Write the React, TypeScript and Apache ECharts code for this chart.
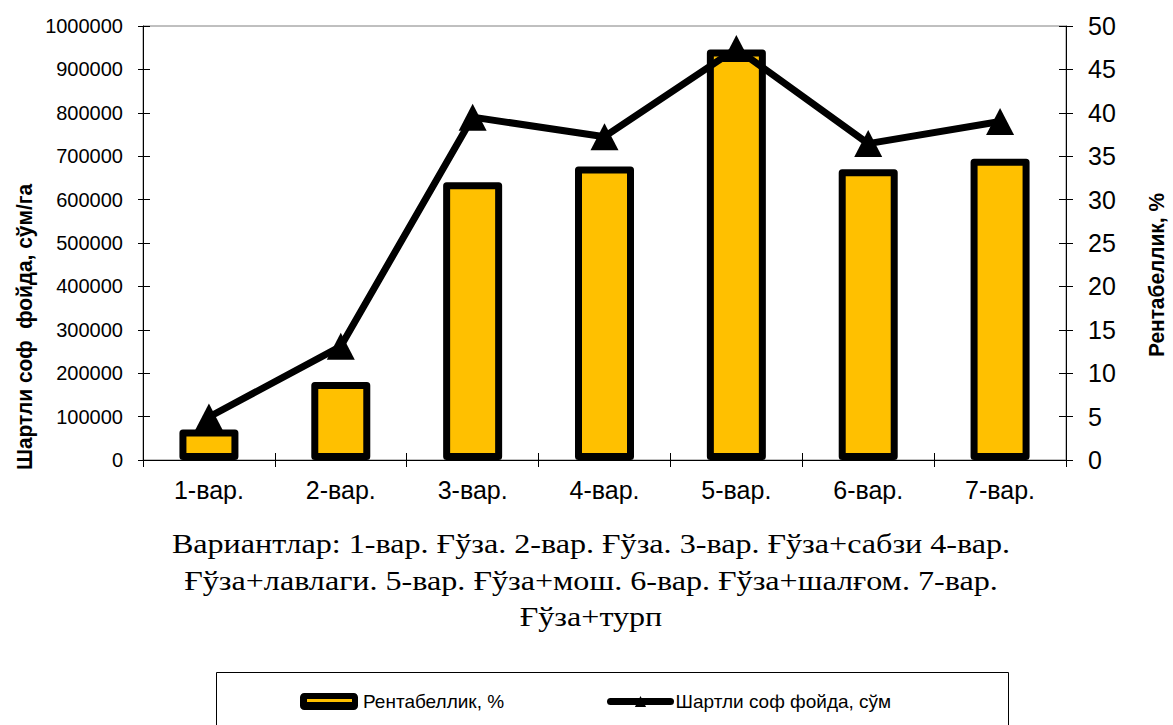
import React, { useEffect, useRef } from "react";
import * as echarts from "echarts";

// Variants on the category axis
const categories = ["1-вар.", "2-вар.", "3-вар.", "4-вар.", "5-вар.", "6-вар.", "7-вар."];
// Profitability, % (bars, right axis)
const profitability = [3.5, 9.0, 32.0, 33.8, 47.3, 33.5, 34.7];
// Conditional net profit, sum/ha (line, left axis)
const netProfit = [99000, 262000, 790000, 745000, 948000, 729000, 780000];

const barName = "Рентабеллик, %";
const lineName = "Шартли соф фойда, сўм";
const leftTitle = "Шартли соф  фойда, сўм/га";
const rightTitle = "Рентабеллик, %";
const noteLines = [
  "Вариантлар: 1-вар. Ғўза. 2-вар. Ғўза. 3-вар. Ғўза+сабзи 4-вар.",
  "Ғўза+лавлаги. 5-вар. Ғўза+мош. 6-вар. Ғўза+шалғом. 7-вар.",
  "Ғўза+турп",
];

const SANS = "Arial, 'Liberation Sans', sans-serif";
const SERIF = "'Times New Roman', 'Liberation Serif', serif";
const BAR_COLOR = "#FFC000";

export default function App() {
  const ref = useRef<HTMLDivElement>(null);

  useEffect(() => {
    if (!ref.current) return;
    const chart = echarts.init(ref.current, null, { renderer: "svg" });

    const hiddenAxisBase = {
      type: "value",
      axisLine: { show: false },
      axisLabel: { show: false },
      splitLine: { show: false },
      axisTick: { show: true, inside: true, length: 7, lineStyle: { color: "#000", width: 1 } },
    };

    const swatchStyle = { color: "#000", borderColor: "#000", borderWidth: 0 };

    chart.setOption({
      animation: false,
      backgroundColor: "#fff",
      grid: {
        left: 143,
        right: 107,
        top: 26,
        bottom: 265,
        show: true,
        borderColor: "#808080",
        borderWidth: 1,
        backgroundColor: "transparent",
      },
      xAxis: [
        {
          type: "category",
          data: categories,
          axisLine: { lineStyle: { color: "#000", width: 1 } },
          axisTick: { show: true, length: 7, lineStyle: { color: "#000" } },
          axisLabel: { color: "#000", fontSize: 25, fontFamily: SANS, margin: 17 },
        },
        {
          type: "category",
          data: categories,
          position: "bottom",
          axisLine: { show: false },
          axisLabel: { show: false },
          axisTick: { show: true, inside: true, length: 7, lineStyle: { color: "#000" } },
        },
      ],
      yAxis: [
        {
          type: "value",
          position: "left",
          min: 0,
          max: 1000000,
          interval: 100000,
          axisLine: { show: true, lineStyle: { color: "#000", width: 1 } },
          axisTick: { show: true, length: 5, lineStyle: { color: "#000" } },
          axisLabel: {
            color: "#000",
            fontSize: 20,
            fontFamily: SANS,
            margin: 20,
            formatter: (v: number) => String(v),
          },
          splitLine: { show: false },
        },
        {
          type: "value",
          position: "right",
          min: 0,
          max: 50,
          interval: 5,
          axisLine: { show: true, lineStyle: { color: "#000", width: 1 } },
          axisTick: { show: true, length: 7, lineStyle: { color: "#000" } },
          axisLabel: { color: "#000", fontSize: 25, fontFamily: SANS, margin: 22 },
          splitLine: { show: false },
        },
        { ...hiddenAxisBase, position: "left", min: 0, max: 1000000, interval: 100000 },
        { ...hiddenAxisBase, position: "right", min: 0, max: 50, interval: 5 },
      ],
      legend: [
        {
          data: [{ name: barName, icon: "roundRect", itemStyle: swatchStyle }],
          left: 300,
          top: 692,
          padding: 0,
          itemWidth: 58,
          itemHeight: 17,
          itemStyle: swatchStyle,
          textStyle: { color: "#000", fontSize: 19, fontFamily: SANS, lineHeight: 17 },
        },
        {
          data: [lineName],
          left: 607,
          top: 692,
          padding: 0,
          itemWidth: 60,
          itemHeight: 14,
          lineStyle: { width: 7, color: "#000", cap: "round" },
          textStyle: { color: "#000", fontSize: 19, fontFamily: SANS, lineHeight: 17 },
        },
      ],
      graphic: [
        {
          type: "rect",
          shape: { x: 216.5, y: 672.5, width: 792, height: 70 },
          style: { fill: "none", stroke: "#000", lineWidth: 1 },
          silent: true,
        },
        {
          // yellow stripe inside the bar legend swatch
          type: "rect",
          z: 100,
          shape: { x: 307, y: 699, width: 45, height: 3 },
          style: { fill: BAR_COLOR },
          silent: true,
        },
        {
          type: "text",
          x: 25,
          y: 327,
          rotation: Math.PI / 2,
          scaleX: 0.95,
          style: {
            text: leftTitle,
            fontSize: 22,
            fontWeight: "bold",
            fontFamily: SANS,
            fill: "#000",
            align: "center",
            verticalAlign: "middle",
          },
        },
        {
          type: "text",
          x: 1157,
          y: 275,
          rotation: Math.PI / 2,
          scaleX: 0.95,
          style: {
            text: rightTitle,
            fontSize: 22,
            fontWeight: "bold",
            fontFamily: SANS,
            fill: "#000",
            align: "center",
            verticalAlign: "middle",
          },
        },
        {
          type: "text",
          x: 591,
          y: 526,
          scaleX: 1.19,
          style: {
            text: noteLines.join("\n"),
            fontSize: 27,
            fontFamily: SERIF,
            fill: "#000",
            align: "center",
            verticalAlign: "top",
            lineHeight: 36.5,
          },
        },
      ],
      series: [
        {
          name: barName,
          type: "bar",
          yAxisIndex: 1,
          data: profitability,
          barWidth: 59,
          itemStyle: {
            color: BAR_COLOR,
            borderColor: "#000",
            borderWidth: 7,
            borderJoin: "round",
          },
          z: 2,
        },
        {
          name: lineName,
          type: "line",
          yAxisIndex: 0,
          data: netProfit,
          symbol: "triangle",
          symbolSize: [28, 27],
          lineStyle: { color: "#000", width: 7 },
          itemStyle: { color: "#000" },
          z: 3,
        },
      ],
    });

    return () => chart.dispose();
  }, []);

  return (
    <div
      ref={ref}
      style={{ position: "fixed", left: 0, top: 0, width: 1173, height: 725, background: "#fff" }}
    />
  );
}
